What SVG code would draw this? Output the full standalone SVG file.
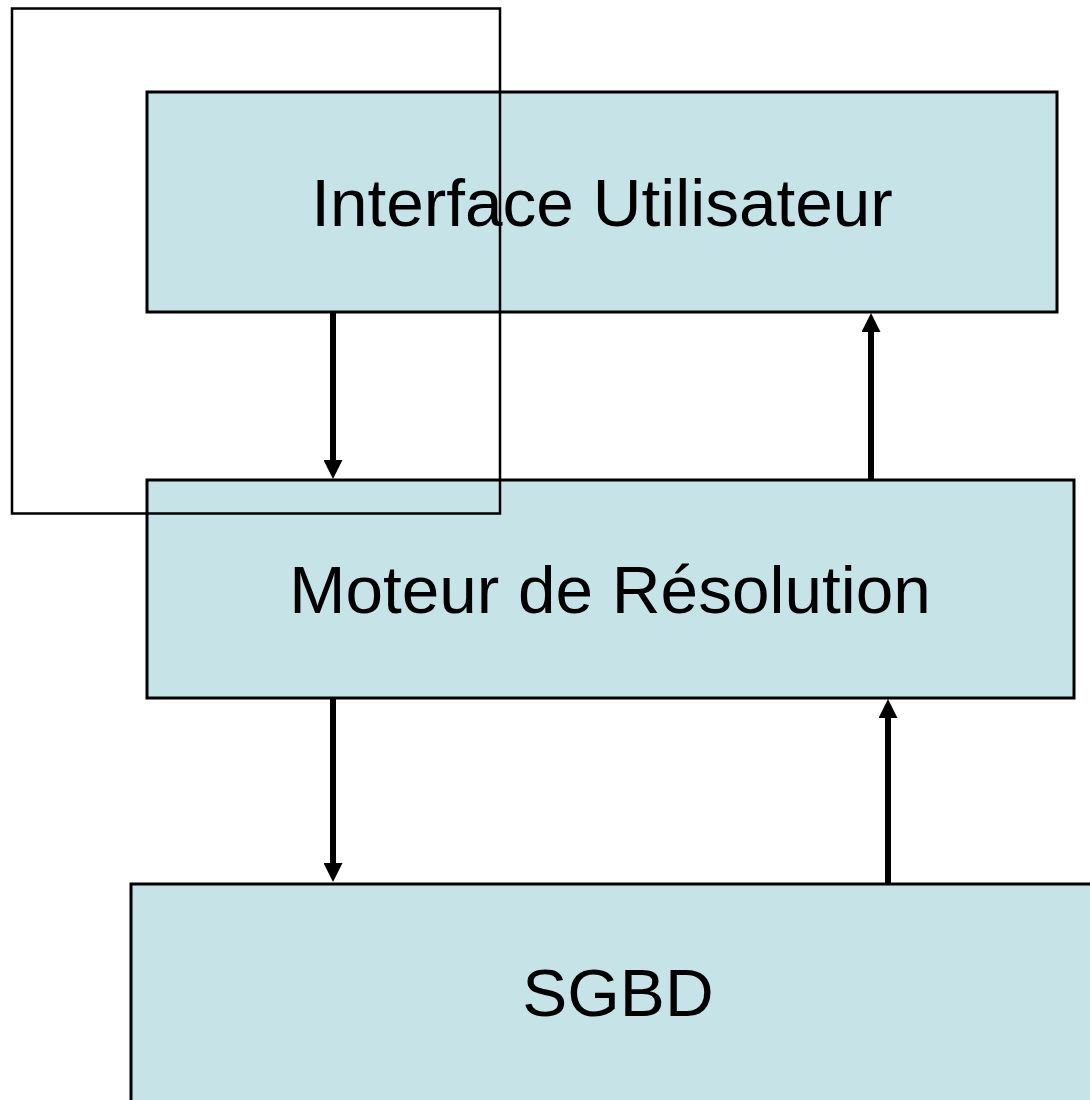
<svg xmlns="http://www.w3.org/2000/svg" width="1090" height="1100" viewBox="0 0 1090 1100">
  <style>
    .box { fill: #c6e4e8; stroke: #000; stroke-width: 3; }
    .label { font-family: "Liberation Sans", Arial, sans-serif; font-size: 67.5px; fill: #000; text-anchor: middle; }
    .flow { stroke: #000; stroke-width: 6; fill: none; }
    .frame { fill: none; stroke: #000; stroke-width: 2.5; }
  </style>
  <defs>
    <marker id="head" markerUnits="userSpaceOnUse" markerWidth="19" markerHeight="19" refX="0" refY="9.5" orient="auto">
      <path d="M0,0 L19,9.5 L0,19 z" fill="#000"/>
    </marker>
  </defs>
  <rect width="1090" height="1100" fill="#fff"/>

  <g id="interface">
    <rect class="box" x="147" y="92" width="910" height="220"/>
    <text class="label" x="602" y="226">Interface Utilisateur</text>
  </g>

  <g id="moteur">
    <rect class="box" x="147" y="480" width="927" height="218"/>
    <text class="label" x="610" y="613">Moteur de Résolution</text>
  </g>

  <g id="sgbd">
    <rect class="box" x="131" y="884" width="975" height="220"/>
    <text class="label" x="618" y="1016">SGBD</text>
  </g>

  <g id="connectors">
    <line class="flow" x1="333" y1="312" x2="333" y2="460" marker-end="url(#head)"/>
    <line class="flow" x1="871" y1="480" x2="871" y2="332" marker-end="url(#head)"/>
    <line class="flow" x1="333" y1="698" x2="333" y2="863" marker-end="url(#head)"/>
    <line class="flow" x1="888" y1="884" x2="888" y2="718" marker-end="url(#head)"/>
  </g>

  <g id="frame">
    <rect class="frame" x="12" y="8.5" width="488" height="505"/>
  </g>
</svg>
